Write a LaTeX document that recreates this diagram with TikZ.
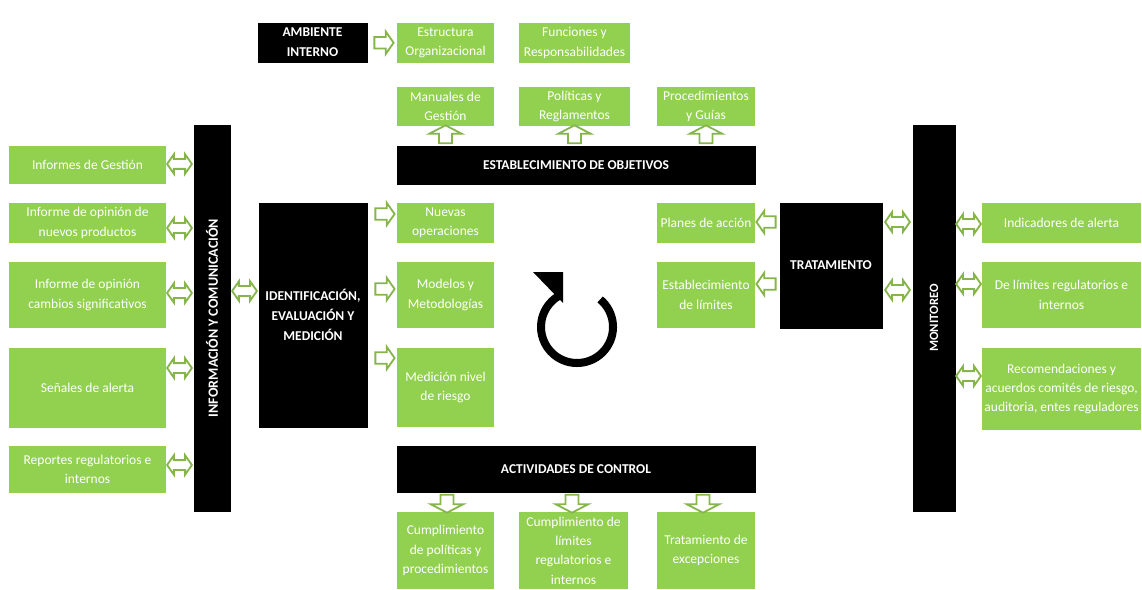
\documentclass[tikz,border=0pt]{standalone}
\usepackage{fontspec}
\setmainfont{Carlito}
\usetikzlibrary{positioning,shapes.arrows,calc}

\definecolor{boxgreen}{HTML}{92D050}
\definecolor{arrgreen}{HTML}{86B64A}

\tikzset{
  blackbox/.style={draw=black, fill=black, text=white, font=\fontsize{9.6}{14}\selectfont\bfseries, align=center, inner sep=1pt},
  sidebar/.style={blackbox, rotate=90, font=\fontsize{10}{12}\selectfont\bfseries, minimum width=9.65cm},
  greenbox/.style={fill=boxgreen, text=white, font=\fontsize{9.6}{13.8}\selectfont, align=center, inner sep=1pt},
  rarr/.style={single arrow, draw=arrgreen, fill=white, line width=1.3pt, inner xsep=0pt, inner ysep=0.12cm, minimum height=0.48cm, single arrow head extend=0.14cm, single arrow tip angle=110},
  larr/.style={rarr, rotate=180},
  varr/.style={rarr, inner ysep=0.14cm, minimum height=0.45cm, single arrow head extend=0.24cm, single arrow tip angle=125},
  uarr/.style={varr, rotate=90},
  darr/.style={varr, rotate=-90},
  bothx/.style={double arrow, draw=arrgreen, fill=white, line width=1.3pt, inner xsep=0pt, inner ysep=0.1cm, minimum height=0.62cm, double arrow head extend=0.12cm, double arrow tip angle=110}
}

\begin{document}
\begin{tikzpicture}[x=0.025cm, y=-0.025cm]
    \useasboundingbox (0,0) rectangle (1142,590);

    % ambiente interno
    \node[blackbox, minimum width=2.725cm, minimum height=0.975cm] (amb) at (312.5,42.5) {AMBIENTE\\INTERNO};
    \node[greenbox, minimum width=2.425cm, minimum height=1cm] (estr) at (445.5,43) {Estructura\\Organizacional};
    \node[greenbox, minimum width=2.775cm, minimum height=1cm] (func) at (574.5,43) {Funciones y\\Responsabilidades};
    \node[rarr] (a1) at ($(amb.east)!0.5!(estr.west)$) {};

    % establecimiento de objetivos
    \node[greenbox, minimum width=2.425cm, minimum height=0.975cm] (manu) at (445.5,106.5) {Manuales de\\Gestión};
    \node[greenbox, minimum width=2.775cm, minimum height=0.975cm] (poli) at (574.5,106.5) {Políticas y\\Reglamentos};
    \node[greenbox, minimum width=2.45cm, minimum height=0.975cm] (proc) at (706,106.5) {Procedimientos\\y Guías};
    \node[blackbox, minimum width=8.95cm, minimum height=0.95cm] (estab) at (576,165) {ESTABLECIMIENTO DE OBJETIVOS};
    \node[uarr] (u1) at ($(manu.south)!0.5!(manu.south |- estab.north)$) {};
    \node[uarr] (u2) at ($(poli.south)!0.5!(poli.south |- estab.north)$) {};
    \node[uarr] (u3) at ($(proc.south)!0.5!(proc.south |- estab.north)$) {};

    % informacion y comunicacion
    \node[sidebar, minimum height=0.9cm] (info) at (212,318) {INFORMACIÓN Y COMUNICACIÓN};
    \node[greenbox, minimum width=3.925cm, minimum height=0.95cm] (ig) at (87.5,165) {Informes de Gestión};
    \node[greenbox, minimum width=3.925cm, minimum height=1cm] (iop) at (87.5,223) {Informe de opinión de\\nuevos productos};
    \node[greenbox, minimum width=3.925cm, minimum height=1.65cm] (ioc) at (87.5,295) {Informe de opinión\\cambios significativos};
    \node[greenbox, minimum width=3.925cm, minimum height=2cm] (sen) at (87.5,388) {Señales de alerta};
    \node[greenbox, minimum width=3.925cm, minimum height=1.175cm] (rep) at (87.5,469.5) {Reportes regulatorios e\\internos};
    \node[bothx] (b1) at (179.5,164) {};
    \node[bothx] (b2) at (179.5,228) {};
    \node[bothx] (b3) at (179.5,293) {};
    \node[bothx] (b4) at (179.5,368) {};
    \node[bothx] (b5) at (179.5,465) {};

    % identificacion
    \node[blackbox, minimum width=2.7cm, minimum height=5.6cm] (ident) at (313,315) {IDENTIFICACIÓN,\\EVALUACIÓN Y\\MEDICIÓN};
    \node[bothx] (b6) at (244.5,291) {};
    \node[greenbox, minimum width=2.425cm, minimum height=1cm] (nue) at (445.5,223) {Nuevas\\operaciones};
    \node[greenbox, minimum width=2.425cm, minimum height=1.65cm] (mod) at (445.5,295) {Modelos y\\Metodologías};
    \node[greenbox, minimum width=2.425cm, minimum height=1.975cm] (med) at (445.5,387.5) {Medición nivel\\de riesgo};
    \node[rarr] (a2) at (383,214) {};
    \node[rarr] (a3) at (383,289) {};
    \node[rarr] (a4) at (383,358) {};

    % ciclo
    \draw[line width=5.7pt] ($(577,327)+(50:0.9cm)$) arc[start angle=50, end angle=-238, radius=0.9cm];
    \fill (533,272) -- (563,272) -- (563,303) -- cycle;

    % tratamiento
    \node[blackbox, minimum width=2.55cm, minimum height=3.125cm] (trat) at (831,265.5) {TRATAMIENTO};
    \node[greenbox, minimum width=2.45cm, minimum height=1cm] (plan) at (706,223) {Planes de acción};
    \node[greenbox, minimum width=2.45cm, minimum height=1.65cm] (estl) at (706,295) {Establecimiento\\de límites};
    \node[larr] (l1) at (768,222) {};
    \node[larr] (l2) at (768,284) {};

    % monitoreo
    \node[sidebar, minimum height=1.05cm, font=\fontsize{9}{11}\selectfont\bfseries] (monit) at (934,318) {MONITOREO};
    \node[bothx] (b7) at (897.5,222) {};
    \node[bothx] (b8) at (897.5,290) {};
    \node[greenbox, minimum width=3.975cm, minimum height=1cm] (ind) at (1061.5,223) {Indicadores de alerta};
    \node[greenbox, minimum width=3.975cm, minimum height=1.65cm] (dlim) at (1061.5,295) {De límites regulatorios e\\internos};
    \node[greenbox, minimum width=3.975cm, minimum height=2.05cm] (rec) at (1061.5,389) {Recomendaciones y\\acuerdos comités de riesgo,\\auditoria, entes reguladores};
    \node[bothx] (b9) at (968.5,224) {};
    \node[bothx] (b10) at (968.5,284) {};
    \node[bothx] (b11) at (968.5,376) {};

    % actividades de control
    \node[blackbox, minimum width=8.95cm, minimum height=1.15cm] (activ) at (576,469) {ACTIVIDADES DE CONTROL};
    \node[greenbox, minimum width=2.425cm, minimum height=1.925cm] (cp) at (445.5,550.5) {Cumplimiento\\de políticas y\\procedimientos};
    \node[greenbox, minimum width=2.725cm, minimum height=1.925cm] (cl) at (573.5,550.5) {Cumplimiento de\\límites\\regulatorios e\\internos};
    \node[greenbox, minimum width=2.45cm, minimum height=1.925cm] (te) at (706,550.5) {Tratamiento de\\excepciones};
    \node[darr] (d1) at (447,502) {};
    \node[darr] (d2) at (572,502) {};
    \node[darr] (d3) at (703,502) {};
\end{tikzpicture}
\end{document}
